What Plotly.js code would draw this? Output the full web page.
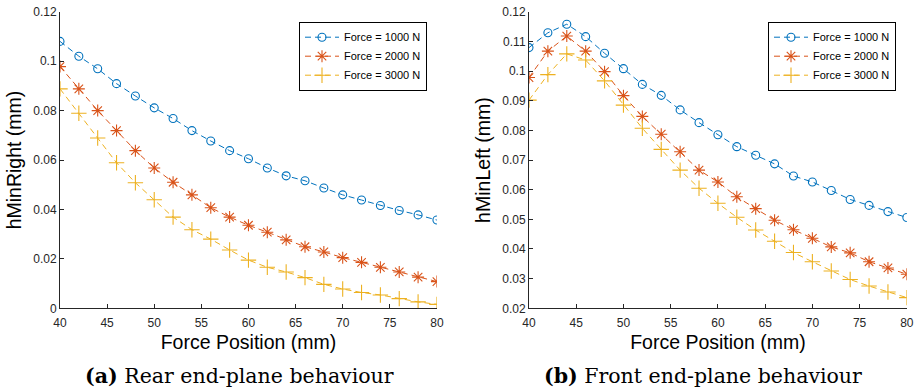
<!DOCTYPE html>
<html><head><meta charset="utf-8">
<script src="https://cdn.plot.ly/plotly-3.0.1.min.js"></script>
<style>html,body{margin:0;padding:0;background:#fff;}#chart{width:916px;height:391px;}</style>
</head><body><div id="chart"></div>
<script>
const forcePosition = [40,42,44,46,48,50,52,54,56,58,60,62,64,66,68,70,72,74,76,78,80];
const seriesNames = ['Force = 1000 N','Force = 2000 N','Force = 3000 N'];
// (a) Rear end-plane: hMinRight (mm)
const rear1000 = [0.108,0.102,0.0969,0.0909,0.0859,0.0811,0.0768,0.0719,0.0677,0.0638,0.0605,0.0568,0.0536,0.0516,0.0487,0.0459,0.0438,0.0416,0.0396,0.0378,0.0357];
const rear2000 = [0.0978,0.0888,0.0800,0.0719,0.0638,0.0568,0.0510,0.0459,0.0407,0.0369,0.0336,0.0308,0.0277,0.0249,0.0228,0.0205,0.0186,0.0166,0.0147,0.0126,0.0108];
const rear3000 = [0.0888,0.0789,0.0689,0.0589,0.0508,0.0439,0.0369,0.0318,0.0280,0.0236,0.0195,0.0166,0.0147,0.0124,0.0097,0.0078,0.0064,0.0054,0.0039,0.0026,0.0016];
// (b) Front end-plane: hMinLeft (mm)
const front1000 = [0.1079,0.1129,0.1158,0.1116,0.1060,0.1008,0.0955,0.0918,0.0869,0.0826,0.0785,0.0745,0.0716,0.0687,0.0646,0.0626,0.0597,0.0567,0.0547,0.0526,0.0506];
const front2000 = [0.0978,0.1067,0.1118,0.1067,0.0998,0.0917,0.0847,0.0787,0.0728,0.0666,0.0626,0.0576,0.0536,0.0497,0.0465,0.0436,0.0407,0.0387,0.0357,0.0336,0.0315];
const front3000 = [0.0902,0.0988,0.1058,0.1037,0.0967,0.0885,0.0807,0.0736,0.0666,0.0605,0.0554,0.0507,0.0464,0.0426,0.0388,0.0357,0.0326,0.0297,0.0275,0.0255,0.0236];
const yTitles = ['hMinRight (mm)','hMinLeft (mm)'];
const xTitle = 'Force Position (mm)';
const captions = ['<b>(a)</b> Rear end-plane behaviour','<b>(b)</b> Front end-plane behaviour'];

const colors = ['#0072BD','#D95319','#EDB120'];
const symbols = ['circle-open','asterisk-open','cross-thin-open'];
const msizes = [8,10,11];

function mk(y, i, xa, ya, leg) {
  return {x: forcePosition, y: y, name: seriesNames[i], type:'scatter', mode:'lines+markers',
    xaxis: xa, yaxis: ya, legend: leg,
    line:{color:colors[i], width:1, dash:'6px,4px'},
    marker:{symbol:symbols[i], size:msizes[i], color:colors[i], line:{color:colors[i], width:1.1}}};
}
const data = [
  mk(rear1000,0,'x','y','legend'), mk(rear2000,1,'x','y','legend'), mk(rear3000,2,'x','y','legend'),
  mk(front1000,0,'x2','y2','legend2'), mk(front2000,1,'x2','y2','legend2'), mk(front3000,2,'x2','y2','legend2')
];
const axc = '#262626';
const tickFont = {family:'Liberation Sans, Arial, sans-serif', size:12, color:axc};
const titleFont = {family:'Liberation Sans, Arial, sans-serif', size:19.5, color:'#000'};
function xax(dom, anchor) {
  return {domain:dom, anchor:anchor, range:[40,80], dtick:5, tick0:40, ticks:'inside', ticklen:4, tickcolor:axc,
    showline:true, linecolor:axc, linewidth:1, showgrid:false, zeroline:false, tickfont:tickFont, ticklabelstandoff:3,
    title:{text:xTitle, font:titleFont, standoff:6}};
}
function yax(range, dtick, anchor, title) {
  return {domain:[0.2115,0.970], anchor:anchor, range:range, dtick:dtick, ticks:'inside', ticklen:4, tickcolor:axc,
    showline:true, linecolor:axc, linewidth:1, showgrid:false, zeroline:false, tickfont:tickFont,
    title:{text:title, font:titleFont, standoff:6}};
}
const legendStyle = {bgcolor:'#fff', bordercolor:'#000', borderwidth:1, font:{family:'Liberation Sans, Arial, sans-serif', size:11, color:'#000'},
  xanchor:'right', yanchor:'top', tracegroupgap:0, itemwidth:34};
const layout = {
  width:916, height:391, margin:{l:0,r:0,t:0,b:0}, paper_bgcolor:'#fff', plot_bgcolor:'#fff', showlegend:true,
  xaxis: xax([0.0655,0.477],'y'), yaxis: yax([0,0.12],0.02,'x',yTitles[0]),
  xaxis2: xax([0.5775,0.990],'y2'), yaxis2: yax([0.02,0.12],0.01,'x2',yTitles[1]),
  legend: Object.assign({x:427/916, y:1-21.7/391}, legendStyle),
  legend2: Object.assign({x:896/916, y:1-21.7/391}, legendStyle),
  annotations: [
    {text:captions[0], xref:'paper', yref:'paper', x:239/916, y:1-376/391, xanchor:'center', yanchor:'middle', showarrow:false,
     font:{family:'DejaVu Serif, serif', size:20.5, color:'#000'}},
    {text:captions[1], xref:'paper', yref:'paper', x:703/916, y:1-376/391, xanchor:'center', yanchor:'middle', showarrow:false,
     font:{family:'DejaVu Serif, serif', size:20.5, color:'#000'}}
  ]
};
Plotly.newPlot('chart', data, layout, {displayModeBar:false, staticPlot:true});
</script></body></html>
